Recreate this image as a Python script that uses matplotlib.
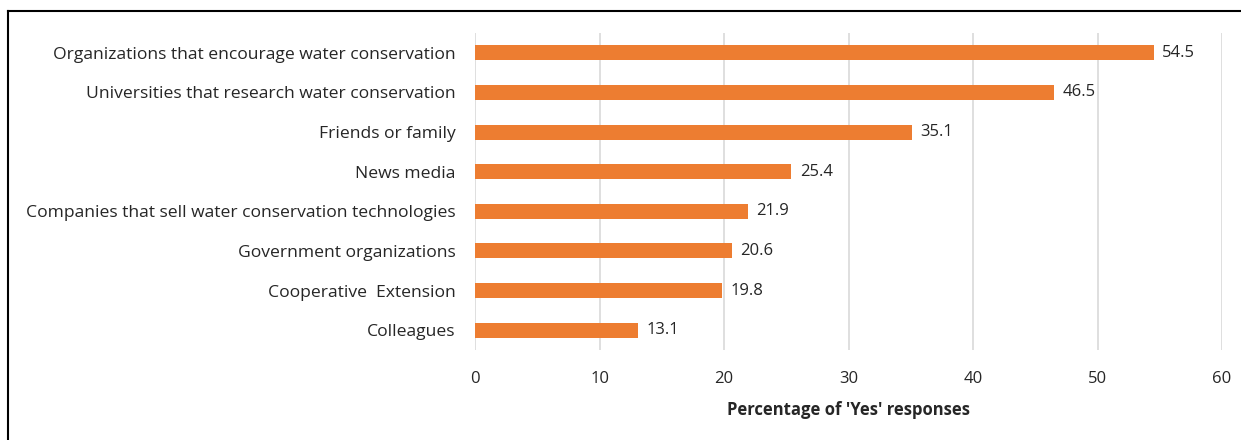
import matplotlib.pyplot as plt
from matplotlib.lines import Line2D

# ───────── DATOS ─────────
sources = [
    "Organizations that encourage water conservation",
    "Universities that research water conservation",
    "Friends or family",
    "News media",
    "Companies that sell water conservation technologies",
    "Government organizations",
    "Cooperative  Extension",
    "Colleagues",
]
yes_pct = [54.5, 46.5, 35.1, 25.4, 21.9, 20.6, 19.8, 13.1]
x_ticks = [0, 10, 20, 30, 40, 50, 60]

BAR = "#ED7D31"
TXT = "#262626"
GRID = "#D9D9D9"
FS = 12

plt.rcParams["font.family"] = ["Open Sans", "DejaVu Sans"]

fig = plt.figure(figsize=(12.41, 4.40), dpi=100)
ax = fig.add_axes([0.3828, 0.2045, 0.6019, 0.7205])

ypos = list(range(len(sources)))
ax.barh(ypos, yes_pct, height=0.38, color=BAR, zorder=3)
for y, v in zip(ypos, yes_pct):
    ax.text(v + 0.7, y, f"{v:.1f}", va="center", ha="left",
            fontsize=FS, color=TXT)

ax.set_yticks(ypos)
ax.set_yticklabels(sources, fontsize=12.6, color=TXT)
ax.set_ylim(len(sources) - 0.5, -0.5)
ax.set_xlim(0, 60)
ax.set_xticks(x_ticks)
ax.set_xticklabels([str(t) for t in x_ticks], fontsize=FS, color=TXT)
ax.tick_params(axis="both", length=0)
ax.tick_params(axis="y", pad=14)
ax.tick_params(axis="x", pad=15)
ax.xaxis.grid(True, color=GRID, linewidth=1.2, zorder=0)
for s in ax.spines.values():
    s.set_visible(False)
ax.set_xlabel("Percentage of 'Yes' responses", fontsize=FS,
              fontweight="bold", color=TXT, labelpad=10)

# marco exterior (solo izquierda y arriba visibles)
fig.add_artist(Line2D([8/1241, 8/1241], [0, 1 - 11/440], color="black",
                      linewidth=1.5, transform=fig.transFigure))
fig.add_artist(Line2D([8/1241, 1], [1 - 11/440, 1 - 11/440], color="black",
                      linewidth=1.5, transform=fig.transFigure))

fig.savefig("out.png", dpi=100)
